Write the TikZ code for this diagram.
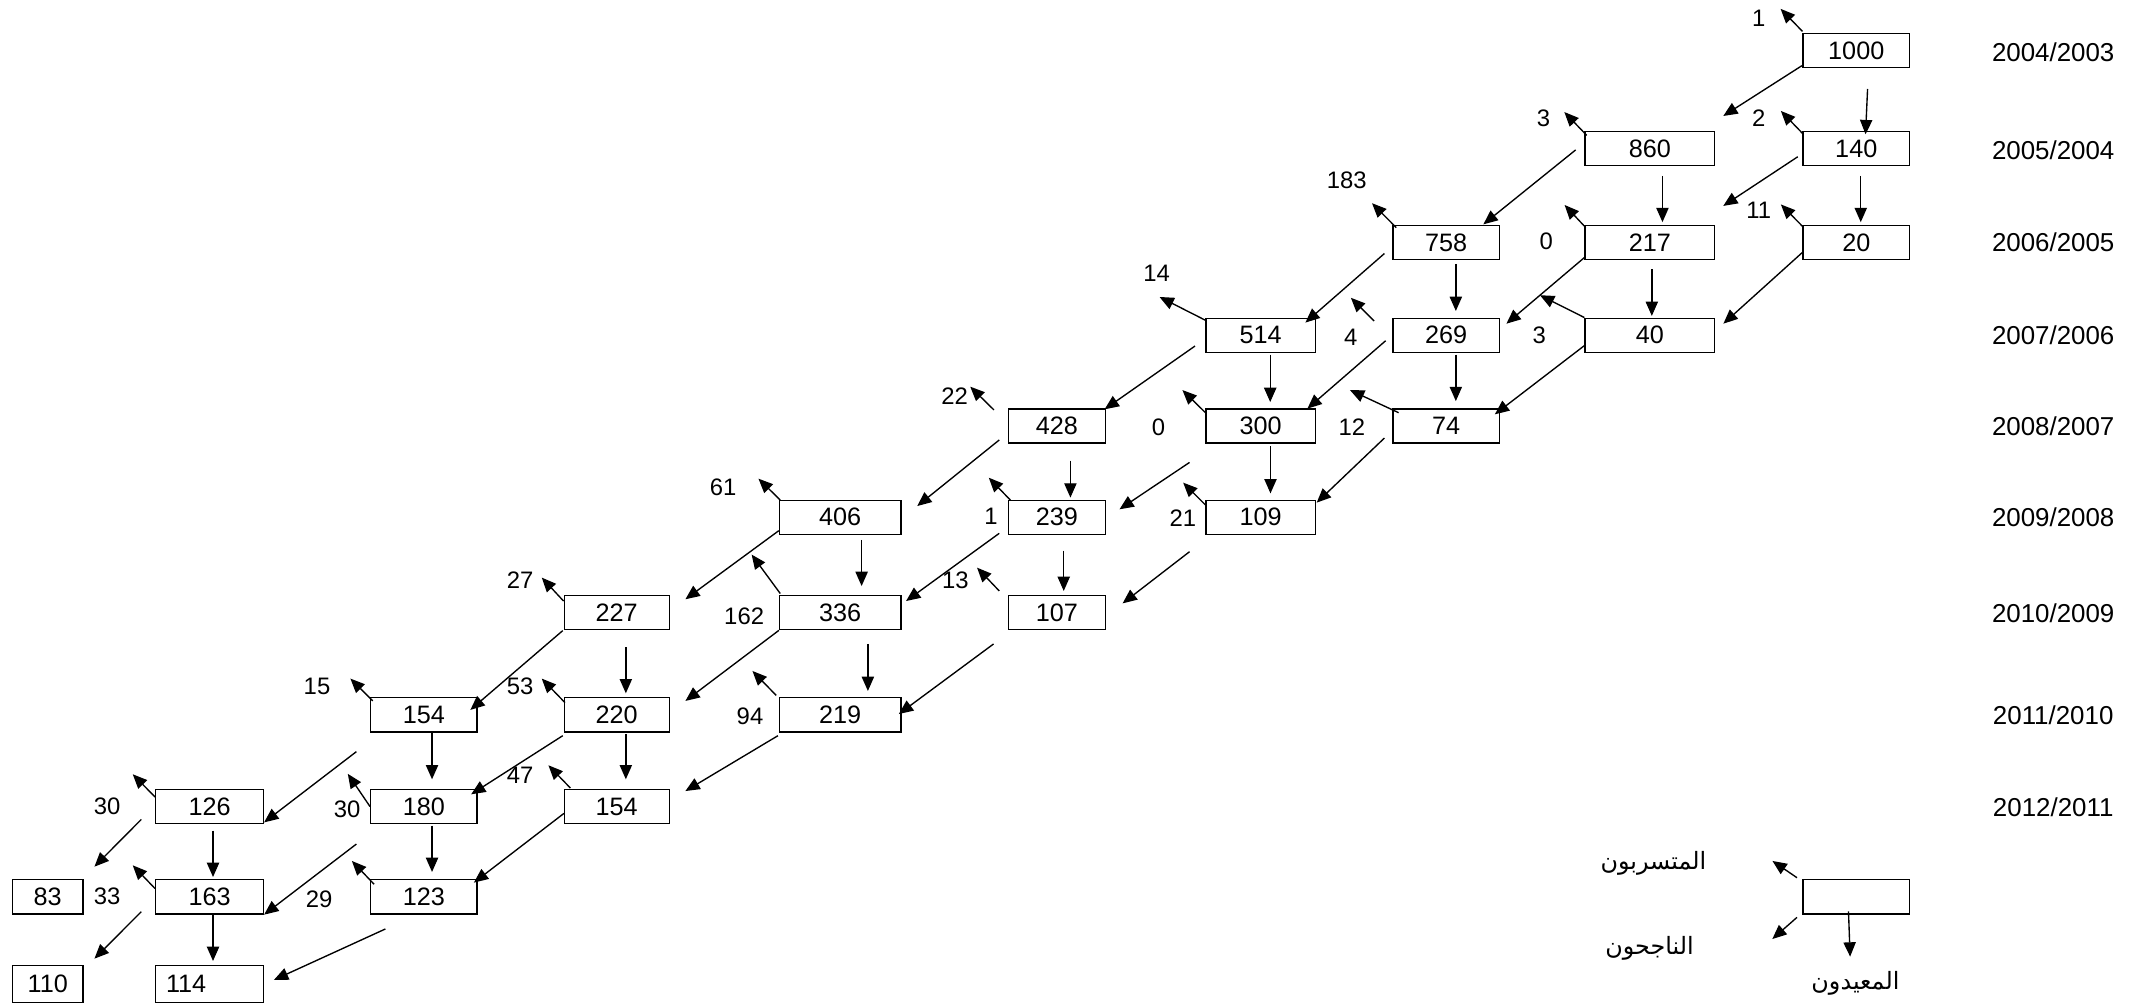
\documentclass[tikz,border=0pt]{standalone}
\usepackage{fontspec}
\setmainfont{Liberation Sans}
\newfontfamily\arabicfont[Script=Arabic]{DejaVu Sans}
\TeXXeTstate=1
\usetikzlibrary{arrows.meta}
\newcommand{\boxfont}{\fontsize{18.5}{20}\selectfont}
\newcommand{\labfont}{\fontsize{17.5}{19}\selectfont}
\newcommand{\yrfont}{\fontsize{19}{21}\selectfont}
\newcommand{\arfont}{\arabicfont\fontsize{17.5}{19}\selectfont}
\begin{document}
\begin{tikzpicture}[x=1pt,y=-1pt,
  box/.style={draw, line width=1pt, minimum height=25pt, inner sep=0pt, font=\boxfont},
  lab/.style={inner sep=0pt, font=\labfont},
  yr/.style={inner sep=0pt, font=\yrfont},
  ar/.style={inner sep=0pt, font=\arfont},
  arr/.style={line width=1pt, -{Triangle[length=10.5pt,width=9pt]}}]
\useasboundingbox (0,0) rectangle (1568,737);

% ---- boxes ----
\node[box, minimum width=78pt] (n1000) at (1362,37) {1000};
\node[box, minimum width=78pt] (n140) at (1362,109) {140};
\node[box, minimum width=78pt] (n20) at (1362,178) {20};
\node[box, minimum width=95pt] (n860) at (1210.5,109) {860};
\node[box, minimum width=95pt] (n217) at (1210.5,178) {217};
\node[box, minimum width=95pt] (n40) at (1210.5,246) {40};
\node[box, minimum width=78pt] (n758) at (1061,178) {758};
\node[box, minimum width=78pt] (n269) at (1061,246) {269};
\node[box, minimum width=78pt] (n74) at (1061,312.5) {74};
\node[box, minimum width=80pt] (n514) at (925,246) {514};
\node[box, minimum width=80pt] (n300) at (925,312.5) {300};
\node[box, minimum width=80pt] (n109) at (925,379.5) {109};
\node[box, minimum width=71pt] (n428) at (775.5,312.5) {428};
\node[box, minimum width=71pt] (n239) at (775.5,379.5) {239};
\node[box, minimum width=71pt] (n107) at (775.5,449.5) {107};
\node[box, minimum width=89pt] (n406) at (616.5,379.5) {406};
\node[box, minimum width=89pt] (n336) at (616.5,449.5) {336};
\node[box, minimum width=89pt] (n219) at (616.5,524.5) {219};
\node[box, minimum width=77pt] (n227) at (452.5,449.5) {227};
\node[box, minimum width=77pt] (n220) at (452.5,524.5) {220};
\node[box, minimum width=77pt] (n154b) at (452.5,591.8) {154};
\node[box, minimum width=78pt] (n154a) at (311,524.5) {154};
\node[box, minimum width=78pt] (n180) at (311,591.8) {180};
\node[box, minimum width=78pt] (n123) at (311,658) {123};
\node[box, minimum width=79pt] (n126) at (153.8,591.8) {126};
\node[box, minimum width=79pt] (n163) at (153.8,658) {163};
\node[box, minimum height=27pt, text width=64pt, inner xsep=7.5pt, align=left] (n114) at (153.8,722) {114};
\node[box, minimum width=52pt] (n83) at (35,658) {83};
\node[box, minimum width=52pt, minimum height=27pt] (n110) at (35,722) {110};
\node[box, minimum width=78pt] (nLeg) at (1362,658) {};

% ---- dropout labels ----
\node[lab] (l1) at (1290.4,13.5) {1};
\node[lab] (l3) at (1132.5,86.8) {3};
\node[lab] (l2) at (1290.4,86.8) {2};
\node[lab] (l183) at (988.2,132.1) {183};
\node[lab] (l0a) at (1134.5,176.7) {0};
\node[lab] (l11) at (1290.4,154.6) {11};
\node[lab] (l14) at (848.6,200.5) {14};
\node[lab] (l4) at (991,247.8) {4};
\node[lab] (l3b) at (1129.4,245.8) {3};
\node[lab] (l22) at (700.4,290.6) {22};
\node[lab] (l0b) at (850,313.8) {0};
\node[lab] (l12) at (991.9,313.5) {12};
\node[lab] (l61) at (530.6,357.6) {61};
\node[lab] (l1b) at (727.1,378.6) {1};
\node[lab] (l21) at (868,380.3) {21};
\node[lab] (l27) at (381.6,426) {27};
\node[lab] (l162) at (546,452.5) {162};
\node[lab] (l13) at (701,425.8) {13};
\node[lab] (l15) at (232.6,503.3) {15};
\node[lab] (l53) at (381.6,503.3) {53};
\node[lab] (l94) at (550.3,525.8) {94};
\node[lab] (l30a) at (78.6,591.4) {30};
\node[lab] (l30b) at (254.7,594) {30};
\node[lab] (l47) at (381.6,568.6) {47};
\node[lab] (l33) at (78.6,657.9) {33};
\node[lab] (l29) at (234.2,659.9) {29};

% ---- year labels ----
\node[yr] (y1) at (1506.5,38.6) {2004/2003};
\node[yr] (y2) at (1506.5,110) {2005/2004};
\node[yr] (y3) at (1506.5,177.5) {2006/2005};
\node[yr] (y4) at (1506.5,246) {2007/2006};
\node[yr] (y5) at (1506.5,312.5) {2008/2007};
\node[yr] (y6) at (1506.5,379.5) {2009/2008};
\node[yr] (y7) at (1506.5,450) {2010/2009};
\node[yr] (y8) at (1506.5,524.5) {2011/2010};
\node[yr] (y9) at (1506.5,592) {2012/2011};

% ---- legend texts ----
\node[ar] (tDrop) at (1213.2,633.4) {\beginR المتسربون\endR};
\node[ar] (tPass) at (1210.3,695.8) {\beginR الناجحون\endR};
\node[ar] (tRep) at (1361.4,721.5) {\beginR المعيدون\endR};

% ---- dropout arrows ----
\draw[arr] ([shift={(0,-1)}]n1000.north west) -- ++(-16,-16.5);
\draw[arr] ([shift={(1.7,3.3)}]n860.north west) -- ++(-16.4,-17.1);
\draw[arr] ([shift={(0,1.8)}]n140.north west) -- ++(-15.8,-16.4);
\draw[arr] ([shift={(0,1)}]n20.north west) -- ++(-15.8,-16);
\draw[arr] ([shift={(1,2)}]n217.north west) -- ++(-15.5,-16.6);
\draw[arr] ([shift={(3,2)}]n758.north west) -- ++(-17.8,-17.9);
\draw[arr] ([shift={(0,2)}]n514.north west) -- ++(-33.7,-17.1);
\coordinate (f4) at ([shift={(-13.3,2.5)}]n269.north west);
\draw[arr] (f4) -- ++(-17,-17);
\draw[arr] (n40.north west) -- ++(-32.6,-16.4);
\coordinate (f22) at ([shift={(-10.2,1.3)}]n428.north west);
\draw[arr] (f22) -- ++(-17.4,-17.1);
\draw[arr] ([shift={(0,3.3)}]n300.north west) -- ++(-16.9,-16.6);
\draw[arr] ([shift={(4.7,3.3)}]n74.north west) -- ++(-35.7,-16.6);
\draw[arr] ([shift={(1,0.4)}]n406.north west) -- ++(-16,-15.7);
\draw[arr] ([shift={(2,0.6)}]n239.north west) -- ++(-16,-16.6);
\draw[arr] ([shift={(0,4)}]n109.north west) -- ++(-16.4,-16.4);
\draw[arr] ([shift={(1,-1)}]n336.north west) -- ++(-21,-28.6);
\coordinate (f13) at ([shift={(-6.3,-2.9)}]n107.north west);
\draw[arr] (f13) -- ++(-16.3,-17.1);
\draw[arr] ([shift={(0,4.5)}]n227.north west) -- ++(-16,-17.2);
\draw[arr] ([shift={(2,2.8)}]n154a.north west) -- ++(-16.4,-16.4);
\draw[arr] ([shift={(1,4)}]n220.north west) -- ++(-17,-17.6);
\coordinate (f94) at ([shift={(-2,-1.3)}]n219.north west);
\draw[arr] (f94) -- ++(-17.4,-17.9);
\draw[arr] ([shift={(5,-0.6)}]n154b.north west) -- ++(-16.1,-16.7);
\draw[arr] (n180.west) -- ++(-16.3,-24);
\draw[arr] ([shift={(0,6)}]n126.north west) -- ++(-16.4,-16.7);
\draw[arr] ([shift={(0,7)}]n163.north west) -- ++(-16.4,-17.1);
\draw[arr] ([shift={(3,3.8)}]n123.north west) -- ++(-16.3,-17.1);
\draw[arr] ([shift={(-4,-1)}]nLeg.north west) -- ++(-18,-12.3);

% ---- repeater arrows ----
\draw[arr] ([shift={(8.3,15.3)}]n1000.south) -- ([shift={(6.8,2.5)}]n140.north);
\draw[arr] ([shift={(9.3,7)}]n860.south) -- ([shift={(9.3,-2)}]n217.north);
\draw[arr] ([shift={(3.3,7)}]n140.south) -- ([shift={(3.3,-2)}]n20.north);
\draw[arr] ([shift={(7.2,2.7)}]n758.south) -- ([shift={(7.2,-4.8)}]n269.north);
\draw[arr] ([shift={(1.5,6.4)}]n217.south) -- ([shift={(1.5,-1.2)}]n40.north);
\draw[arr] ([shift={(7,1.2)}]n514.south) -- ([shift={(7,-4.5)}]n300.north);
\draw[arr] ([shift={(7.2,1.2)}]n269.south) -- ([shift={(7.2,-5.2)}]n74.north);
\draw[arr] ([shift={(9.9,12.5)}]n428.south) -- ([shift={(9.9,-1.4)}]n239.north);
\draw[arr] ([shift={(7.2,2)}]n300.south) -- ([shift={(7.2,-4.5)}]n109.north);
\draw[arr] ([shift={(15.7,3.7)}]n406.south) -- ([shift={(15.7,-6.5)}]n336.north);
\draw[arr] ([shift={(5,11.5)}]n239.south) -- ([shift={(5,-2.9)}]n107.north);
\draw[arr] ([shift={(6.7,12.5)}]n227.south) -- ([shift={(6.7,-2.8)}]n220.north);
\draw[arr] ([shift={(20.3,10)}]n336.south) -- ([shift={(20.3,-4.5)}]n219.north);
\draw[arr] ([shift={(6.7,1)}]n220.south) -- ([shift={(6.7,-7)}]n154b.north);
\draw[arr] ([shift={(6,0.6)}]n154a.south) -- ([shift={(6,-7)}]n180.north);
\draw[arr] ([shift={(2.5,4.7)}]n126.south) -- ([shift={(2.5,-1.5)}]n163.north);
\draw[arr] ([shift={(6,1)}]n180.south) -- ([shift={(6,-5.2)}]n123.north);
\draw[arr] ([shift={(2.5,0)}]n163.south) -- ([shift={(2.5,-2.9)}]n114.north);
\draw[arr] ([shift={(-5.7,-2.3)}]nLeg.south) -- ++(1.2,33.2);

% ---- promotion arrows ----
\draw[arr] ([shift={(-0.4,-1.8)}]n1000.south west) -- ([shift={(5.9,-10.9)}]n860.north east);
\draw[arr] ([shift={(-3.4,6)}]n140.west) -- ([shift={(5.9,-13.9)}]n217.north east);
\draw[arr] ([shift={(-6.4,1)}]n860.west) -- ([shift={(-12.1,-0.4)}]n758.north east);
\draw[arr] ([shift={(0,-5.8)}]n20.south west) -- ([shift={(6,4.5)}]n40.north east);
\draw[arr] ([shift={(0,-2)}]n217.south west) -- ([shift={(4.8,4.5)}]n269.north east);
\draw[arr] ([shift={(-5.7,-5)}]n758.south west) -- ([shift={(-7.7,3.7)}]n514.north east);
\draw[arr] ([shift={(0,-5.4)}]n40.south west) -- ([shift={(-3.7,4.5)}]n74.north east);
\draw[arr] ([shift={(-4.8,4)}]n269.west) -- ([shift={(-6.2,0.3)}]n300.north east);
\draw[arr] ([shift={(-7.7,7.9)}]n514.west) -- ([shift={(-1,0.8)}]n428.north east);
\draw[arr] ([shift={(-5.7,-4.1)}]n74.south west) -- ([shift={(0.6,2.3)}]n109.north east);
\draw[arr] ([shift={(-6.3,-2.7)}]n428.south west) -- ([shift={(11.5,4.8)}]n406.north east);
\draw[arr] ([shift={(-11.7,13.8)}]n300.south west) -- ([shift={(9.9,-5.8)}]n239.east);
\draw[arr] ([shift={(-0.1,-3.1)}]n406.south west) -- ([shift={(11.4,3.2)}]n227.north east);
\draw[arr] ([shift={(-6.3,-1.2)}]n239.south west) -- ([shift={(3.3,4.5)}]n336.north east);
\draw[arr] ([shift={(-11.7,12.3)}]n109.south west) -- ([shift={(12.2,6.2)}]n107.north east);
\draw[arr] ([shift={(-0.6,0.2)}]n227.south west) -- ([shift={(-5.4,9.4)}]n154a.north east);
\draw[arr] (n336.south west) -- ([shift={(11.4,2.8)}]n220.north east);
\draw[arr] ([shift={(-10.5,10)}]n107.south west) -- ([shift={(-2,-0.6)}]n219.east);
\draw[arr] ([shift={(-10,14)}]n154a.south west) -- ([shift={(0,-1.4)}]n126.south east);
\draw[arr] ([shift={(-0.6,2.3)}]n220.south west) -- ([shift={(-4.8,4)}]n180.north east);
\draw[arr] ([shift={(-0.7,2.3)}]n219.south west) -- ([shift={(11.4,1.6)}]n154b.north east);
\draw[arr] ([shift={(-10,14.5)}]n180.south west) -- ([shift={(0,0.1)}]n163.south east);
\draw[arr] ([shift={(0.3,5)}]n154b.west) -- ([shift={(-2.8,2.6)}]n123.north east);
\draw[arr] ([shift={(-10.1,9.4)}]n126.west) -- ([shift={(7.8,-9.1)}]n83.north east);
\draw[arr] ([shift={(-10.1,10.9)}]n163.west) -- ([shift={(7.8,-4.6)}]n110.north east);
\draw[arr] ([shift={(11.3,10.6)}]n123.south west) -- ([shift={(7.2,-3)}]n114.east);
\draw[arr] ([shift={(-4,2.1)}]nLeg.south west) -- ++(-18.1,15.9);
\end{tikzpicture}
\end{document}
